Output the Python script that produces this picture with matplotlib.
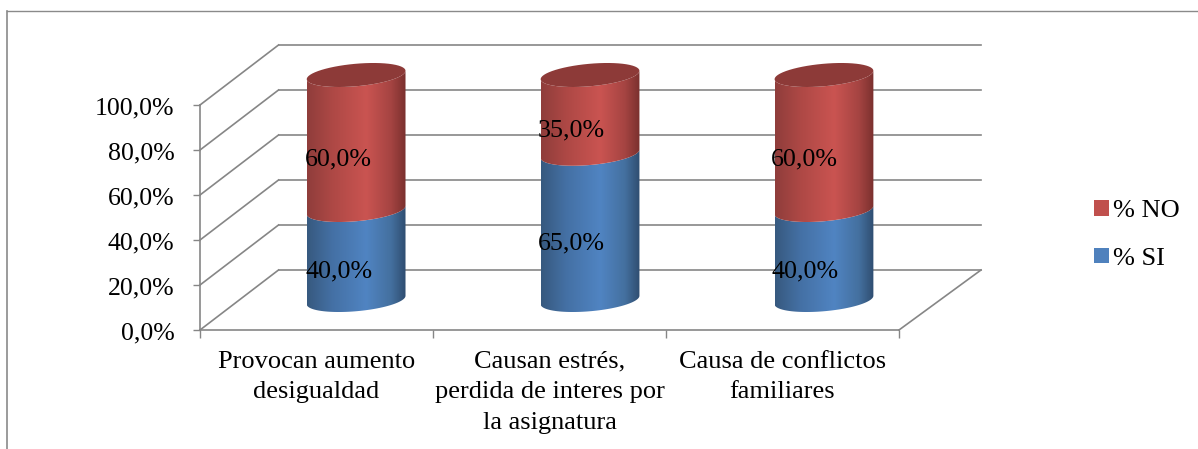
"""Stacked 3D style cylinder chart, % SI / % NO by category."""
import matplotlib
matplotlib.use("Agg")
import matplotlib.pyplot as plt
import numpy as np
from matplotlib.colors import LinearSegmentedColormap
from matplotlib.lines import Line2D
from matplotlib.patches import Patch, Polygon
from matplotlib.path import Path
from matplotlib.transforms import ScaledTranslation

categories = [
    "Provocan aumento\ndesigualdad",
    "Causan estrés,\nperdida de interes por\nla asignatura",
    "Causa de conflictos\nfamiliares",
]
si_values = [40.0, 65.0, 40.0]
no_values = [60.0, 35.0, 60.0]
y_ticks = [0, 20, 40, 60, 80, 100]

GRAY = "#868686"
DX, DY = 0.352, 26.67  # shift of the back wall, in data units
DX_LEFT = 0.337
BAR_A, BAR_B, BAR_S = 0.212, 5.0, 1.87  # ellipse half width, half height, tilt

plt.rcParams["font.family"] = ["Liberation Serif", "DejaVu Serif"]
plt.rcParams["font.size"] = 19

W, H = 1198, 449
fig = plt.figure(figsize=(W / 100, H / 100), dpi=100)
ax = fig.add_axes([200 / W, (H - 330) / H, 699 / W, 225 / H])
n = len(categories)


def arc(cx, v, start, stop):
    t = np.linspace(start, stop, 60)
    return np.column_stack([
        cx + BAR_A * np.cos(t),
        v + BAR_S * np.cos(t) - BAR_B * np.sin(t),
    ])


def segment(cx, v0, v1, colors):
    verts = np.vstack([arc(cx, v0, 0, np.pi), arc(cx, v1, np.pi, 0)])
    verts = np.vstack([verts, verts[:1]])
    cmap = LinearSegmentedColormap.from_list("b", colors)
    grad = cmap(np.linspace(0, 1, 256))[None, :, :]
    low, high = verts[:, 1].min(), verts[:, 1].max()
    im = ax.imshow(grad, extent=[cx - BAR_A, cx + BAR_A, low, high],
                   aspect="auto", zorder=3, interpolation="bilinear")
    im.set_clip_path(Path(verts), transform=ax.transData)
    im.set_clip_box(fig.bbox)


# walls and floor
for v in y_ticks:
    ax.plot([DX_LEFT, n + DX], [v + DY, v + DY], color=GRAY, lw=1.2, clip_on=False, zorder=1)
    ax.plot([0, DX_LEFT], [v, v + DY], color=GRAY, lw=1.2, clip_on=False, zorder=1)
ax.plot([n, n + DX], [0, DY], color=GRAY, lw=1.2, clip_on=False, zorder=1)

# cylinders
blue = [(0, "#37597f"), (0.25, "#4470a4"), (0.6, "#5084c2"), (0.85, "#44709f"), (1, "#2f4d70")]
red = [(0, "#8f3d3b"), (0.25, "#ad4845"), (0.6, "#ca5451"), (0.85, "#a54442"), (1, "#7a302e")]
for i, (si, no) in enumerate(zip(si_values, no_values)):
    cx = i * 1.004 + 0.494 + DX / 2
    segment(cx, DY / 2, si + DY / 2, blue)
    segment(cx, si + DY / 2, si + no + DY / 2, red)
    top = arc(cx, si + no + DY / 2, 0, 2 * np.pi)
    ax.add_patch(Polygon(top, closed=True, fc="#8d3a38", ec="none", zorder=4, clip_on=False))
    # labels sit about a quarter of the way into the depth
    lx = i + 0.5 + DX * 0.27
    ax.text(lx, si / 2 + DY * 0.225, f"{si:.1f}%".replace(".", ","),
            ha="center", va="center", zorder=5, fontsize=18.7)
    ax.text(lx, si + no / 2 + DY * 0.225, f"{no:.1f}%".replace(".", ","),
            ha="center", va="center", zorder=5, fontsize=18.7)

ax.set_xlim(0, n)
ax.set_ylim(0, 100)
ax.set_yticks(y_ticks)
ax.set_yticklabels([f"{v:.1f}%".replace(".", ",") for v in y_ticks], fontsize=18.6)
ax.set_xticks(np.arange(n) + 0.5)
ax.set_xticklabels(categories, linespacing=1.5)
ax.set_xticks(np.arange(n + 1), minor=True)
ax.tick_params(axis="x", which="major", length=0, pad=15)
ax.tick_params(axis="x", which="minor", length=5.5, color=GRAY, width=1)
ax.tick_params(axis="y", length=5, color=GRAY, width=1, pad=13.5)
for lab in ax.get_yticklabels():
    lab.set_transform(lab.get_transform() + ScaledTranslation(0, -0.7 / 100, fig.dpi_scale_trans))
for side in ("top", "right"):
    ax.spines[side].set_visible(False)
for side in ("left", "bottom"):
    ax.spines[side].set_color(GRAY)
    ax.spines[side].set_linewidth(1.2)
ax.patch.set_alpha(0)

handles = [Patch(fc="#c0504d", label="% NO"), Patch(fc="#4f81bd", label="% SI")]
fig.legend(handles=handles, loc="center left", bbox_to_anchor=(1089 / W, (H - 235) / H),
           frameon=False, handlelength=0.54, handleheight=0.54, handletextpad=0.17,
           labelspacing=0.95, borderpad=0.2, borderaxespad=0)

# outer chart frame, only top and left edges show
fig.add_artist(Line2D([7 / W, 7 / W], [0, (H - 11) / H], color="#8a8a8a", lw=1.2))
fig.add_artist(Line2D([7 / W, 1], [(H - 11) / H, (H - 11) / H], color="#8a8a8a", lw=1.0))

fig.savefig("out.png", dpi=100)
